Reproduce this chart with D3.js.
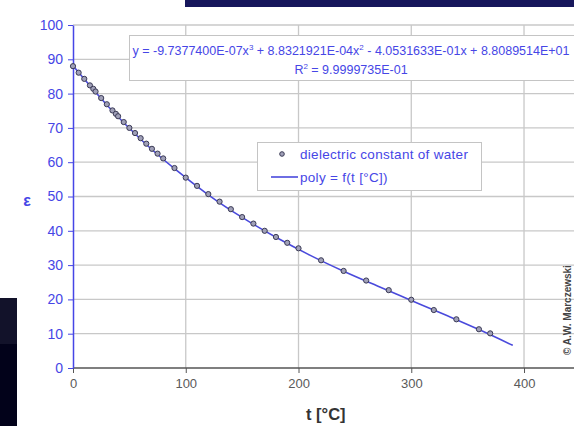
<!DOCTYPE html>
<html>
<head>
<meta charset="utf-8">
<script src="https://cdn.jsdelivr.net/npm/d3@7"></script>
<style>
  body { margin: 0; background: #fff; }
  svg { display: block; font-family: "Liberation Sans", Arial, sans-serif; }
</style>
</head>
<body>
<div class="canvas"></div>
<script>
// measured points: temperature (°C) and dielectric constant
const temps = [0, 5, 10, 15, 18, 20, 25, 30, 35, 38, 40, 45, 50, 55, 60, 65, 70, 75, 80, 90,
  100, 110, 120, 130, 140, 150, 160, 170, 180, 190, 200, 220, 240, 260, 280, 300, 320, 340, 360, 370]
const eps = [88.0, 86.1, 84.3, 82.4, 81.4, 80.6, 78.7, 76.9, 75.1, 74.1, 73.4, 71.7, 70.0, 68.5, 67.0, 65.4, 63.9, 62.5, 61.1, 58.3,
  55.5, 53.1, 50.7, 48.5, 46.3, 44.0, 42.1, 40.0, 38.2, 36.5, 34.9, 31.4, 28.3, 25.5, 22.7, 19.9, 16.9, 14.2, 11.3, 10.1]

// fitted curve
const polyT = [0, 30, 60, 90, 120, 150, 180, 210, 240, 270, 300, 330, 360, 390]
const polyV = [88.1, 76.7, 66.7, 58.1, 50.5, 43.9, 38.1, 32.9, 28.2, 23.9, 19.7, 15.5, 11.2, 6.6]

const xTicks = [0, 100, 200, 300, 400]
const yTicks = [0, 10, 20, 30, 40, 50, 60, 70, 80, 90, 100]

const eqLines = [
  ['y = -9.7377400E-07x', '3', ' + 8.8321921E-04x', '2', ' - 4.0531633E-01x + 8.8089514E+01'],
  ['R', '2', ' = 9.9999735E-01']
]
const legendLabels = ['dielectric constant of water', 'poly = f(t [°C])']

const width = 574
const height = 426
const blue = '#4646e6'
const lineBlue = '#4a4adc'

const svg = d3.select('.canvas')
  .append('svg')
    .attr('width', width)
    .attr('height', height)

// decoration around the chart
svg.append('rect')
  .attr('x', 185).attr('y', 0)
  .attr('width', width - 185).attr('height', 7)
  .attr('fill', '#17175c')

svg.append('rect')
  .attr('x', 0).attr('y', 298)
  .attr('width', 17).attr('height', height - 298)
  .attr('fill', '#02021a')
svg.append('rect')
  .attr('x', 0).attr('y', 298)
  .attr('width', 17).attr('height', 46)
  .attr('fill', '#12122a')

const x = d3.scaleLinear()
  .domain([0, 450])
  .range([73, 580.4])

const y = d3.scaleLinear()
  .domain([0, 100])
  .range([368, 25])

// grid
svg.append('g')
  .selectAll('line')
  .data(yTicks.filter(d => d > 0))
  .enter()
  .append('line')
    .attr('x1', x(0)).attr('x2', width)
    .attr('y1', d => y(d)).attr('y2', d => y(d))
    .attr('stroke', '#c8c8c8')
    .attr('stroke-width', 1.3)

svg.append('g')
  .selectAll('line')
  .data(xTicks.filter(d => d > 0))
  .enter()
  .append('line')
    .attr('x1', d => x(d)).attr('x2', d => x(d))
    .attr('y1', y(100)).attr('y2', y(0))
    .attr('stroke', '#c8c8c8')
    .attr('stroke-width', 1.3)

// axes
const xAxisGroup = svg.append('g')
  .attr('transform', `translate(0, ${y(0)})`)
const yAxisGroup = svg.append('g')
  .attr('transform', `translate(${x(0)}, 0)`)

const xAxis = d3.axisBottom(x)
  .tickValues(xTicks)
  .tickSize(5)
  .tickPadding(6)
  .tickSizeOuter(0)
const yAxis = d3.axisLeft(y)
  .tickValues(yTicks)
  .tickSize(5)
  .tickPadding(5)
  .tickSizeOuter(0)

xAxisGroup.call(xAxis)
yAxisGroup.call(yAxis)

xAxisGroup.select('.domain')
  .attr('d', `M${x(0)},0H${width}`)
  .attr('stroke', '#555')
  .attr('stroke-width', 1.5)
xAxisGroup.selectAll('line').attr('stroke', '#555')
xAxisGroup.selectAll('text')
  .attr('fill', '#5a5a5a')
  .attr('font-size', 13)
  .attr('font-family', '"Liberation Sans", Arial, sans-serif')

yAxisGroup.select('.domain')
  .attr('stroke', blue)
  .attr('stroke-width', 1.5)
yAxisGroup.selectAll('line').attr('stroke', blue)
yAxisGroup.selectAll('text')
  .attr('fill', blue)
  .attr('font-size', 14)
  .attr('font-family', '"Liberation Sans", Arial, sans-serif')

// fitted line
const line = d3.line()
  .x(d => x(d[0]))
  .y(d => y(d[1]))
  .curve(d3.curveMonotoneX)

svg.append('path')
  .datum(polyT.map((t, i) => [t, polyV[i]]))
  .attr('d', line)
  .attr('fill', 'none')
  .attr('stroke', lineBlue)
  .attr('stroke-width', 1.6)

// measured points
svg.append('g')
  .selectAll('circle')
  .data(temps.map((t, i) => [t, eps[i]]))
  .enter()
  .append('circle')
    .attr('cx', d => x(d[0]))
    .attr('cy', d => y(d[1]))
    .attr('r', 2.6)
    .attr('fill', '#a0a0b8')
    .attr('stroke', '#3a3a55')
    .attr('stroke-width', 1)

// equation box
svg.append('rect')
  .attr('x', 129.5).attr('y', 35.5)
  .attr('width', 460).attr('height', 45)
  .attr('fill', '#fff')
  .attr('stroke', '#c4c4c4')

eqLines.forEach((parts, i) => {
  const t = svg.append('text')
    .attr('x', 351)
    .attr('y', 55 + i * 19)
    .attr('text-anchor', 'middle')
    .attr('fill', blue)
    .attr('font-size', 12.5)
  parts.forEach((p, j) => {
    const sup = j % 2 === 1
    t.append('tspan')
      .attr('font-size', sup ? 8 : 12.5)
      .attr('dy', sup ? -5 : (j > 0 ? 5 : 0))
      .text(p)
  })
})

// legend
svg.append('rect')
  .attr('x', 257.5).attr('y', 142.5)
  .attr('width', 224).attr('height', 48)
  .attr('fill', '#fff')
  .attr('stroke', '#c4c4c4')

svg.append('circle')
  .attr('cx', 282).attr('cy', 154)
  .attr('r', 2.3)
  .attr('fill', '#a0a0b8')
  .attr('stroke', '#3a3a55')

svg.append('line')
  .attr('x1', 271).attr('x2', 298)
  .attr('y1', 177).attr('y2', 177)
  .attr('stroke', lineBlue)
  .attr('stroke-width', 1.6)

svg.selectAll('.legend-text')
  .data(legendLabels)
  .enter()
  .append('text')
    .attr('x', 300)
    .attr('y', (d, i) => 159 + i * 23)
    .attr('fill', blue)
    .attr('font-size', 13.5)
    .attr('letter-spacing', 0.3)
    .text(d => d)

// axis titles
svg.append('text')
  .attr('x', 306)
  .attr('y', 420)
  .attr('fill', '#333')
  .attr('font-size', 16.5)
  .attr('font-weight', 'bold')
  .text('t [°C]')

svg.append('text')
  .attr('x', 27)
  .attr('y', 206)
  .attr('text-anchor', 'middle')
  .attr('fill', blue)
  .attr('font-size', 16)
  .attr('font-weight', 'bold')
  .text('ε')

svg.append('text')
  .attr('transform', 'translate(571, 310) rotate(-90)')
  .attr('text-anchor', 'middle')
  .attr('fill', '#444')
  .attr('font-size', 10)
  .attr('font-weight', 'bold')
  .text('© A.W. Marczewski')
</script>
</body>
</html>
